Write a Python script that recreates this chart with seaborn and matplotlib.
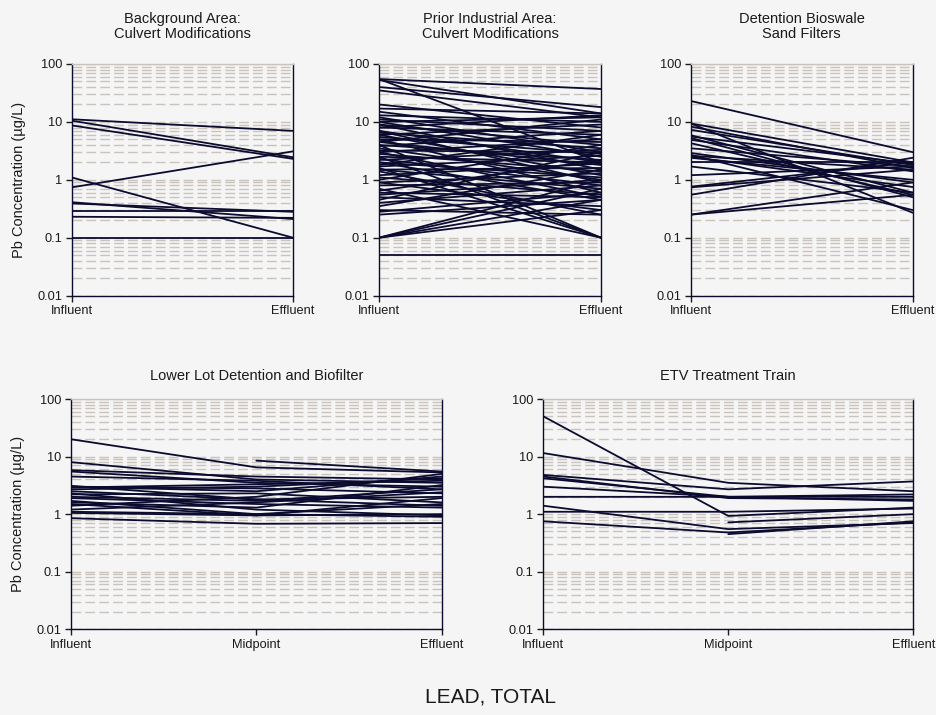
import numpy as np
import pandas as pd
import matplotlib
matplotlib.use("Agg")
import matplotlib.pyplot as plt
import seaborn as sns

# ---------------- data ----------------
titles = ["Background Area:\nCulvert Modifications",
          "Prior Industrial Area:\nCulvert Modifications",
          "Detention Bioswale\nSand Filters",
          "Lower Lot Detention and Biofilter",
          "ETV Treatment Train"]
stages2 = ["Influent", "Effluent"]
stages3 = ["Influent", "Midpoint", "Effluent"]
ytick_vals = [0.01, 0.1, 1, 10, 100]
ytick_labels = ["0.01", "0.1", "1", "10", "100"]

p1_inf = [11.1, 10.5, 8.7, 0.74, 1.1, 0.41, 0.39, 0.29, 0.23, 0.1]
p1_eff = [7.0, 2.45, 2.3, 3.1, 0.1, 0.21, 0.28, 0.29, 0.22, 0.1]

p2_inf = [55, 55, 53, 40, 35, 20, 17, 15, 13, 12, 11, 10, 10, 9, 9, 8, 8, 7, 7,
          6.5, 6, 6, 5.5, 5, 5, 4.5, 4.5, 4, 4, 3.8, 3.5, 3.2, 3, 3, 2.8, 2.5,
          2.5, 2.3, 2.2, 2, 2, 1.8, 1.7, 1.6, 1.5, 1.5, 1.4, 1.2, 1.1, 1, 0.9,
          0.9, 0.8, 0.7, 0.65, 0.6, 0.55, 0.5, 0.45, 0.4, 0.35, 0.3, 0.28,
          0.25, 0.1, 0.1, 0.1, 0.1, 0.05]
p2_eff = [37, 2.0, 14, 18, 12, 8, 14, 5, 10, 3, 7, 12, 2.5, 1.5, 4, 13, 6, 2,
          0.9, 3.5, 9, 1.2, 2.8, 0.6, 4.5, 1.8, 11, 2.2, 0.1, 7, 1, 3, 0.5, 5,
          1.4, 0.1, 2, 0.8, 3.3, 1.1, 0.45, 6, 2.6, 0.1, 0.7, 1.6, 0.25, 1.9,
          0.55, 4, 0.3, 1.3, 0.9, 0.1, 2.2, 0.5, 1, 0.35, 3, 0.8, 1.5, 0.25,
          0.6, 0.45, 1.0, 0.45, 0.7, 0.3, 0.05]

p3_inf = [23, 9.4, 9.4, 8.3, 7.3, 5.9, 5.6, 5.3, 4.9, 4.3, 3.5, 2.9, 2.7, 2.6,
          2.5, 2.4, 2.0, 1.7, 1.2, 0.76, 0.74, 0.55, 0.25, 0.25]
p3_eff = [3.0, 2.0, 0.27, 1.6, 1.8, 0.6, 1.9, 0.5, 1.4, 0.55, 1.7, 0.9, 0.3,
          1.5, 0.75, 1.0, 2.0, 0.6, 1.7, 2.0, 1.5, 2.4, 0.9, 0.55]

p4_inf = [20, np.nan, 8, 5.5, 4.5, 3.0, 2.9, 2.5, 2.3, 2.0, 1.9, 1.7, 1.6, 1.5,
          1.1, 1.05, 0.85, 3.0, 2.2, 1.2, 3.1, 2.7, 1.4, 5.8]
p4_mid = [6.5, 8.5, 4.0, 3.5, 3.8, 2.5, 3.3, 1.8, 1.2, 1.7, 1.5, 1.0, 1.3,
          0.95, 1.0, 0.95, 0.68, 2.8, 2.3, 1.6, 1.8, 3.0, 2.0, 4.5]
p4_eff = [5.3, 5.5, 3.5, 3.0, 2.7, 4.5, 3.8, 2.0, 0.95, 2.7, 1.3, 1.5, 3.2,
          1.9, 0.9, 1.0, 0.7, 2.3, 1.6, 2.4, 1.4, 4.2, 5.0, 4.0]

p5_inf = [50, 11.5, 4.8, 4.5, 4.2, 3.0, 2.0, 1.4, 1.1, 0.75, np.nan, np.nan]
p5_mid = [0.93, 3.5, 2.7, 1.9, 2.0, 2.0, 2.0, 0.55, 1.1, 0.48, 0.72, 0.45]
p5_eff = [1.3, 2.5, 3.7, 1.8, 2.2, 2.0, 1.7, 0.7, 1.25, 0.72, 1.0, 0.75]

panels = [
    (stages2, [p1_inf, p1_eff]),
    (stages2, [p2_inf, p2_eff]),
    (stages2, [p3_inf, p3_eff]),
    (stages3, [p4_inf, p4_mid, p4_eff]),
    (stages3, [p5_inf, p5_mid, p5_eff]),
]

# ---------------- style ----------------
sns.set_theme(style="white")
plt.rcParams["font.family"] = ["Liberation Sans", "DejaVu Sans"]
bg = "#f5f5f5"
line_col = "#0b0b30"
text_col = "#1a1a1a"
grid_col = "#c9c3bb"

fig = plt.figure(figsize=(9.37, 7.15), dpi=100, facecolor=bg)

W = 937.0
H = 715.0
boxes = [  # left, top, right, bottom in pixels
    (71.7, 64, 293.0, 295.6),
    (379.0, 64, 601.0, 295.6),
    (690.7, 64, 912.7, 295.6),
    (71.0, 399, 441.7, 629.3),
    (543.3, 399, 913.3, 629.3),
]

for i, ((stages, series), box) in enumerate(zip(panels, boxes)):
    l, t, r, b = box
    ax = fig.add_axes([l / W, (H - b) / H, (r - l) / W, (b - t) / H])
    ax.set_facecolor(bg)
    rows = []
    for si, vals in enumerate(series):
        for u, v in enumerate(vals):
            rows.append({"unit": u, "pos": si, "val": v})
    df = pd.DataFrame(rows).dropna()

    ax.set_yscale("log")
    ax.set_ylim(0.01, 100)
    ax.set_xlim(0, len(stages) - 1)

    # grid lines at all log ticks
    minor = [m * 10.0 ** e for e in range(-2, 2) for m in range(2, 10)]
    ax.set_yticks(ytick_vals)
    ax.set_yticklabels(ytick_labels)
    ax.set_yticks(minor, minor=True)
    ax.yaxis.grid(True, which="both", color=grid_col,
                  linestyle=(0, (7, 3)), linewidth=1.0)
    ax.set_axisbelow(True)

    sns.lineplot(data=df, x="pos", y="val", units="unit", estimator=None,
                 color=line_col, linewidth=1.3, ax=ax, legend=False)

    ax.set_xticks(range(len(stages)))
    ax.set_xticklabels(stages)
    ax.set_xlim(0, len(stages) - 1)
    ax.set_ylim(0.01, 100)
    ax.set_xlabel("")
    if i in (0, 3):
        ax.set_ylabel("Pb Concentration (\u00b5g/L)", fontsize=10.5,
                      color=text_col, labelpad=8)
    else:
        ax.set_ylabel("")

    ax.tick_params(axis="both", which="major", labelsize=9.2, colors=text_col,
                   direction="out", length=4, width=1, pad=3,
                   left=True, bottom=True)
    ax.tick_params(axis="y", which="minor", length=0)
    for sp in ["left", "bottom", "right"]:
        ax.spines[sp].set_visible(True)
        ax.spines[sp].set_color(line_col)
        ax.spines[sp].set_linewidth(1.0)
    ax.spines["top"].set_visible(True)
    ax.spines["top"].set_color(grid_col)
    ax.spines["top"].set_linewidth(1.0)

    ax.set_title(titles[i], fontsize=10.5, color=text_col,
                 pad=18.5 if i < 3 else 14, linespacing=1.1)

fig.text(0.523, 0.025, "LEAD, TOTAL", ha="center", va="center",
         fontsize=15, color=text_col)

fig.savefig("out.png", dpi=100, facecolor=bg)
